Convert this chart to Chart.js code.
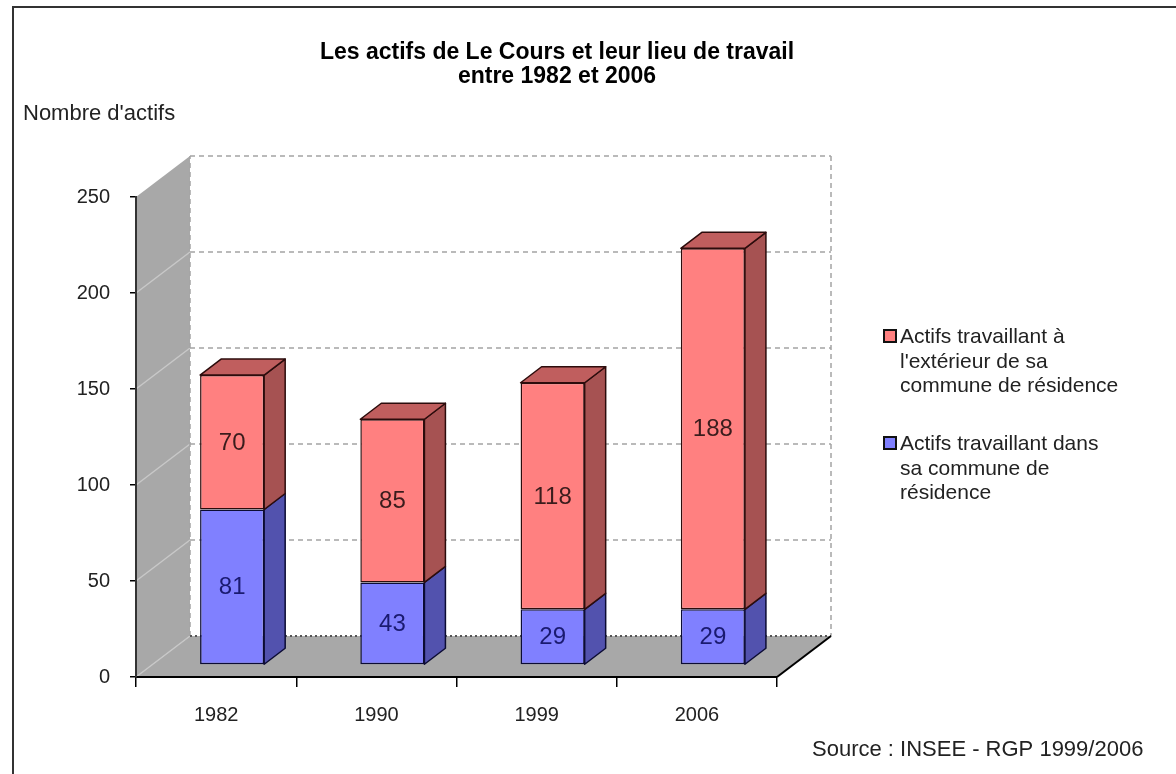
<!DOCTYPE html>
<html>
  <head>
    <meta charset="utf-8">
    <style>
      body { margin: 0; background: #fff; overflow: hidden; }
      canvas { display: block; }
    </style>
  </head>
  <body>
    <canvas id="chart-area" width="1176" height="774"></canvas>

    <script src="https://cdn.jsdelivr.net/npm/chart.js@4/dist/chart.umd.min.js"></script>
    <script>
      // Values
      var years = ['1982', '1990', '1999', '2006'];
      var insideCommune = [81, 43, 29, 29];
      var outsideCommune = [70, 85, 118, 188];
      var yTicks = [0, 50, 100, 150, 200, 250];

      var titleLines = ["Les actifs de Le Cours et leur lieu de travail", "entre 1982 et 2006"];
      var yTitle = "Nombre d'actifs";
      var sourceText = "Source : INSEE - RGP 1999/2006";
      var legendOutside = ["Actifs travaillant à", "l'extérieur de sa", "commune de résidence"];
      var legendInside = ["Actifs travaillant dans", "sa commune de", "résidence"];

      var FONT = '"Liberation Sans", Arial, sans-serif';

      // 3D look: wall depth, and where the bars sit inside that depth
      var wall = { dx: 54, dy: -41 };
      var barFront = { dx: 16, dy: -12 };
      var barDepth = { dx: 21, dy: -16 };

      var faces = [
        { front: '#8080FF', side: '#5252AE', top: '#6a6ad0', edge: '#0c0c34', text: '#1a1a70' },
        { front: '#FF8080', side: '#A65252', top: '#C05E5E', edge: '#2c0c0c', text: '#3a1c1c' }
      ];

      function poly(ctx, pts) {
        ctx.beginPath();
        ctx.moveTo(pts[0][0], pts[0][1]);
        for (var i = 1; i < pts.length; i++) ctx.lineTo(pts[i][0], pts[i][1]);
        ctx.closePath();
      }

      var box3d = {
        id: 'box3d',
        beforeDraw: function(chart) {
          var ctx = chart.ctx;
          var a = chart.chartArea;
          var y = chart.scales.y;
          var y0 = y.getPixelForValue(0);
          var yMax = y.getPixelForValue(250);
          ctx.save();

          // outer frame (left and top only are in view)
          ctx.fillStyle = '#333';
          ctx.fillRect(12, 6, 1164, 2);
          ctx.fillRect(12, 6, 2, 768);

          // left wall
          ctx.fillStyle = '#a8a8a8';
          poly(ctx, [[a.left, yMax], [a.left + wall.dx, yMax + wall.dy], [a.left + wall.dx, y0 + wall.dy], [a.left, y0]]);
          ctx.fill();
          // floor
          poly(ctx, [[a.left, y0], [a.right, y0], [a.right + wall.dx, y0 + wall.dy], [a.left + wall.dx, y0 + wall.dy]]);
          ctx.fill();

          // light lines across the left wall
          ctx.strokeStyle = '#c8c8c8';
          ctx.lineWidth = 1.5;
          yTicks.slice(0, -1).forEach(function(v) {
            var py = y.getPixelForValue(v);
            ctx.beginPath();
            ctx.moveTo(a.left, py);
            ctx.lineTo(a.left + wall.dx, py + wall.dy);
            ctx.stroke();
          });

          // back wall grid and edges
          ctx.strokeStyle = '#a4a4a4';
          ctx.setLineDash([5, 4]);
          yTicks.slice(1).forEach(function(v) {
            var py = y.getPixelForValue(v) + wall.dy;
            ctx.beginPath();
            ctx.moveTo(a.left + wall.dx, py);
            ctx.lineTo(a.right + wall.dx, py);
            ctx.stroke();
          });
          ctx.beginPath();
          ctx.moveTo(a.left + wall.dx, y0 + wall.dy);
          ctx.lineTo(a.left + wall.dx, yMax + wall.dy);
          ctx.moveTo(a.right + wall.dx, yMax + wall.dy);
          ctx.lineTo(a.right + wall.dx, y0 + wall.dy);
          ctx.stroke();

          // back edge of the floor
          ctx.strokeStyle = '#555';
          ctx.lineWidth = 2;
          ctx.setLineDash([2, 3]);
          ctx.beginPath();
          ctx.moveTo(a.left + wall.dx, y0 + wall.dy);
          ctx.lineTo(a.right + wall.dx, y0 + wall.dy);
          ctx.stroke();

          // right edge of the floor
          ctx.setLineDash([]);
          ctx.strokeStyle = '#000';
          ctx.beginPath();
          ctx.moveTo(a.right, y0);
          ctx.lineTo(a.right + wall.dx, y0 + wall.dy);
          ctx.stroke();
          ctx.restore();
        },
        beforeDatasetsDraw: function(chart) {
          chart.ctx.save();
          chart.ctx.translate(barFront.dx, barFront.dy);
        },
        afterDatasetsDraw: function(chart) {
          var ctx = chart.ctx;
          var last = chart.data.datasets.length - 1;
          ctx.lineWidth = 1.5;
          ctx.lineJoin = 'round';
          chart.data.datasets.forEach(function(ds, di) {
            var f = faces[di];
            chart.getDatasetMeta(di).data.forEach(function(bar) {
              var p = bar.getProps(['x', 'y', 'base', 'width'], true);
              var l = p.x - p.width / 2, r = p.x + p.width / 2;
              ctx.fillStyle = f.side;
              ctx.strokeStyle = f.edge;
              poly(ctx, [[r, p.y], [r + barDepth.dx, p.y + barDepth.dy], [r + barDepth.dx, p.base + barDepth.dy], [r, p.base]]);
              ctx.fill();
              ctx.stroke();
              if (di === last) {
                ctx.fillStyle = f.top;
                poly(ctx, [[l, p.y], [l + barDepth.dx, p.y + barDepth.dy], [r + barDepth.dx, p.y + barDepth.dy], [r, p.y]]);
                ctx.fill();
                ctx.stroke();
              }
            });
          });

          // value labels in the middle of each front face
          ctx.font = '24px ' + FONT;
          ctx.textAlign = 'center';
          ctx.textBaseline = 'middle';
          chart.data.datasets.forEach(function(ds, di) {
            ctx.fillStyle = faces[di].text;
            chart.getDatasetMeta(di).data.forEach(function(bar, i) {
              var p = bar.getProps(['x', 'y', 'base'], true);
              ctx.fillText(String(ds.data[i]), p.x, (p.y + p.base) / 2 + 1);
            });
          });
          ctx.restore();
        },
        afterDraw: function(chart) {
          var ctx = chart.ctx;
          ctx.save();
          ctx.fillStyle = '#000';
          ctx.textBaseline = 'alphabetic';

          ctx.font = 'bold 23px ' + FONT;
          ctx.textAlign = 'center';
          ctx.fillText(titleLines[0], 557, 59);
          ctx.fillText(titleLines[1], 557, 83);

          ctx.textAlign = 'left';
          ctx.font = '22px ' + FONT;
          ctx.fillStyle = '#222';
          ctx.fillText(yTitle, 23, 120);
          ctx.fillText(sourceText, 812, 756, 334);

          // legend, outside series listed first
          var entries = [[faces[1], legendOutside, 343], [faces[0], legendInside, 450]];
          ctx.font = '21px ' + FONT;
          entries.forEach(function(e) {
            ctx.fillStyle = e[0].front;
            ctx.strokeStyle = '#111';
            ctx.lineWidth = 2;
            ctx.fillRect(884, e[2] - 13, 12, 12);
            ctx.strokeRect(884, e[2] - 13, 12, 12);
            ctx.fillStyle = '#222';
            e[1].forEach(function(line, k) {
              ctx.fillText(line, 900, e[2] + k * 24.5);
            });
          });
          ctx.restore();
        }
      };

      var ctx = document.getElementById('chart-area').getContext('2d');
      var chart = new Chart(ctx, {
        type: 'bar',
        data: {
          labels: years,
          datasets: [{
            label: legendInside.join(' '),
            data: insideCommune,
            backgroundColor: faces[0].front,
            borderColor: faces[0].edge,
            borderWidth: 1.5,
            borderSkipped: false,
            clip: false
          }, {
            label: legendOutside.join(' '),
            data: outsideCommune,
            backgroundColor: faces[1].front,
            borderColor: faces[1].edge,
            borderWidth: 1.5,
            borderSkipped: false,
            clip: false
          }]
        },
        options: {
          responsive: false,
          animation: false,
          events: [],
          datasets: { bar: { barPercentage: 0.4, categoryPercentage: 1 } },
          layout: { padding: { left: 0, top: 197, right: 399, bottom: 37 } },
          plugins: { legend: { display: false }, tooltip: { enabled: false } },
          scales: {
            x: {
              stacked: true,
              afterFit: function(s) { s.height = 60; },
              grid: { offset: true, drawOnChartArea: false, tickLength: 10, color: '#000', lineWidth: 1.5 },
              border: { color: '#000', width: 2 },
              ticks: { color: '#222', padding: 16, font: { family: FONT, size: 20 } }
            },
            y: {
              stacked: true,
              min: 0,
              max: 250,
              afterFit: function(s) { s.width = 136; },
              afterBuildTicks: function(s) { s.ticks = yTicks.map(function(v) { return { value: v }; }); },
              grid: { drawOnChartArea: false, tickLength: 6, color: '#000', lineWidth: 1.5 },
              border: { color: '#333', width: 2, dash: [3, 2] },
              ticks: { color: '#222', padding: 20, font: { family: FONT, size: 20 } }
            }
          }
        },
        plugins: [box3d]
      });
    </script>
  </body>
</html>
